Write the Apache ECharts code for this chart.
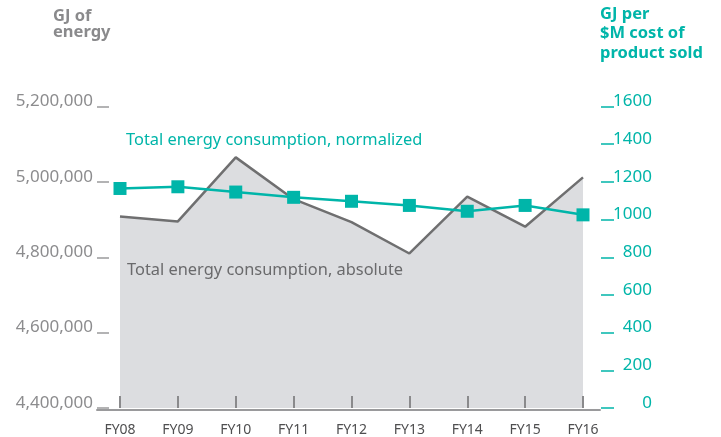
<!DOCTYPE html>
<html>
<head>
<meta charset="utf-8">
<script src="https://cdn.jsdelivr.net/npm/echarts@6/dist/echarts.min.js"></script>
<style>
  html, body { margin: 0; padding: 0; background: #fff; }
  #chart { width: 721px; height: 437px; }
</style>
</head>
<body>
<div id="chart"></div>
<script>
// fiscal years
const years = ["FY08", "FY09", "FY10", "FY11", "FY12", "FY13", "FY14", "FY15", "FY16"];
// GJ of energy (left axis)
const absolute = [4908000, 4895000, 5065000, 4954000, 4893000, 4810000, 4961000, 4881000, 5012000];
// GJ per $M cost of product sold (right axis)
const normalized = [1165, 1174, 1146, 1118, 1097, 1075, 1044, 1075, 1025];

const teal = "#00b5a9";
const grey = "#6f6f70";
const font = "Noto Sans";

let mychart = echarts.init(document.getElementById("chart"));
mychart.setOption({
  animation: false,
  textStyle: { fontFamily: font },
  title: [
    {
      // 左轴标题
      text: "GJ of\nenergy",
      left: 53,
      top: 8,
      padding: 0,
      textStyle: { color: "#8a8a8c", fontSize: 16.5, fontWeight: "bold", lineHeight: 16, fontFamily: font }
    },
    {
      // 右轴标题
      text: "GJ per\n$M cost of\nproduct sold",
      left: 600,
      top: 4,
      padding: 0,
      textStyle: { color: teal, fontSize: 16.5, fontWeight: "bold", lineHeight: 19.7, fontFamily: font }
    },
    {
      text: "Total energy consumption, normalized",
      left: 126,
      top: 132,
      padding: 0,
      textStyle: { color: teal, fontSize: 16.4, fontWeight: "normal", fontFamily: font }
    },
    {
      text: "Total energy consumption, absolute",
      left: 127,
      top: 262,
      padding: 0,
      textStyle: { color: "#6a6a6c", fontSize: 16.4, fontWeight: "normal", fontFamily: font }
    }
  ],
  grid: [
    // baseline only
    { left: 97, right: 121, top: 106.5, bottom: 27 },
    // data
    { left: 120, right: 138, top: 106.5, bottom: 27 }
  ],
  xAxis: [
    {
      gridIndex: 0,
      type: "value",
      min: 0,
      max: 1,
      axisLine: { show: true, lineStyle: { color: "#9a9a9c", width: 2 } },
      axisTick: { show: false },
      axisLabel: { show: false },
      splitLine: { show: false }
    },
    {
      gridIndex: 1,
      type: "category",
      data: years,
      boundaryGap: false,
      z: 10,
      axisLine: { show: false },
      axisTick: { show: true, inside: true, length: 12, alignWithLabel: true, lineStyle: { color: "#8a8a8c", width: 2 } },
      axisLabel: { color: "#4f4f50", fontSize: 14, margin: 15 }
    }
  ],
  yAxis: [
    { gridIndex: 0, show: false, min: 0, max: 1 },
    {
      gridIndex: 1,
      type: "value",
      position: "left",
      offset: 11,
      min: 4400000,
      max: 5200000,
      interval: 200000,
      axisLine: { show: false },
      axisTick: { show: true, length: 12, lineStyle: { color: "#9a9a9c", width: 1.5 } },
      splitLine: { show: false },
      axisLabel: {
        color: "#8c8c8e",
        fontSize: 17,
        margin: 16,
        verticalAlign: "bottom",
        lineHeight: 10,
        formatter: v => v.toLocaleString("en-US")
      }
    },
    {
      gridIndex: 1,
      type: "value",
      position: "right",
      offset: 18,
      min: 0,
      max: 1600,
      interval: 200,
      axisLine: { show: false },
      axisTick: { show: true, length: 13, lineStyle: { color: teal, width: 1.5 } },
      splitLine: { show: false },
      axisLabel: {
        color: teal,
        fontSize: 17,
        margin: 51,
        align: "right",
        verticalAlign: "bottom",
        lineHeight: 10,
        formatter: v => String(v)
      }
    }
  ],
  series: [
    {
      name: "absolute",
      type: "line",
      xAxisIndex: 1,
      yAxisIndex: 1,
      data: absolute,
      symbol: "none",
      color: grey,
      lineStyle: { color: grey, width: 2.5 },
      areaStyle: { color: "#dcdde0", opacity: 1 },
      z: 2
    },
    {
      name: "normalized",
      type: "line",
      xAxisIndex: 1,
      yAxisIndex: 2,
      data: normalized,
      symbol: "rect",
      symbolSize: 13,
      color: teal,
      itemStyle: { color: teal },
      lineStyle: { color: teal, width: 2.5 },
      z: 3
    }
  ]
});
</script>
</body>
</html>
